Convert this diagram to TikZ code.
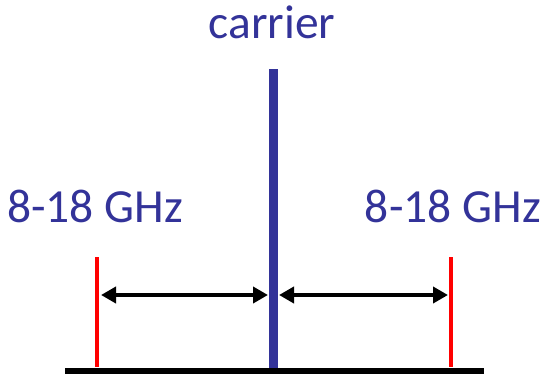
\documentclass[tikz,border=0pt]{standalone}
\usepackage{fontspec}
\setmainfont{Carlito}
\usetikzlibrary{arrows.meta}
\definecolor{cblue}{RGB}{51,51,153}
\definecolor{cred}{RGB}{255,0,0}
\tikzset{
  lbl/.style={inner sep=0pt, text=cblue, font=\fontsize{47.5}{56}\selectfont},
  redbar/.style={draw=cred, line width=4.5pt},
  bluebar/.style={draw=cblue, line width=9pt},
  baseline/.style={draw=black, line width=5.5pt},
  span/.style={draw=black, line width=4pt, {Triangle[length=15pt,width=16pt]}-{Triangle[length=15pt,width=16pt]}}
}
\begin{document}
\begin{tikzpicture}[x=1pt,y=-1pt]
\useasboundingbox (0,0) rectangle (547,376);
\node[lbl, anchor=base] (carrier) at (272,38) {carrier};
\node[lbl, anchor=base west] (lleft) at (7,222) {8-18 GHz};
\node[lbl, anchor=base east] (lright) at (541,222) {8-18 GHz};
\coordinate (redLt) at (97,257);
\coordinate (redLb) at (97,367);
\coordinate (redRt) at (451,257);
\coordinate (redRb) at (451,367);
\coordinate (blueT) at (273.5,69);
\coordinate (blueB) at (273.5,368);
\coordinate (baseL) at (65,371);
\coordinate (baseR) at (484,371);
\coordinate (aL1) at (101,295);
\coordinate (aL2) at (268,295);
\coordinate (aR1) at (279,295);
\coordinate (aR2) at (448,295);
\draw[redbar] (redLt) -- (redLb);
\draw[redbar] (redRt) -- (redRb);
\draw[bluebar] (blueT) -- (blueB);
\draw[baseline] (baseL) -- (baseR);
\draw[span] (aL1) -- (aL2);
\draw[span] (aR1) -- (aR2);
\end{tikzpicture}
\end{document}
